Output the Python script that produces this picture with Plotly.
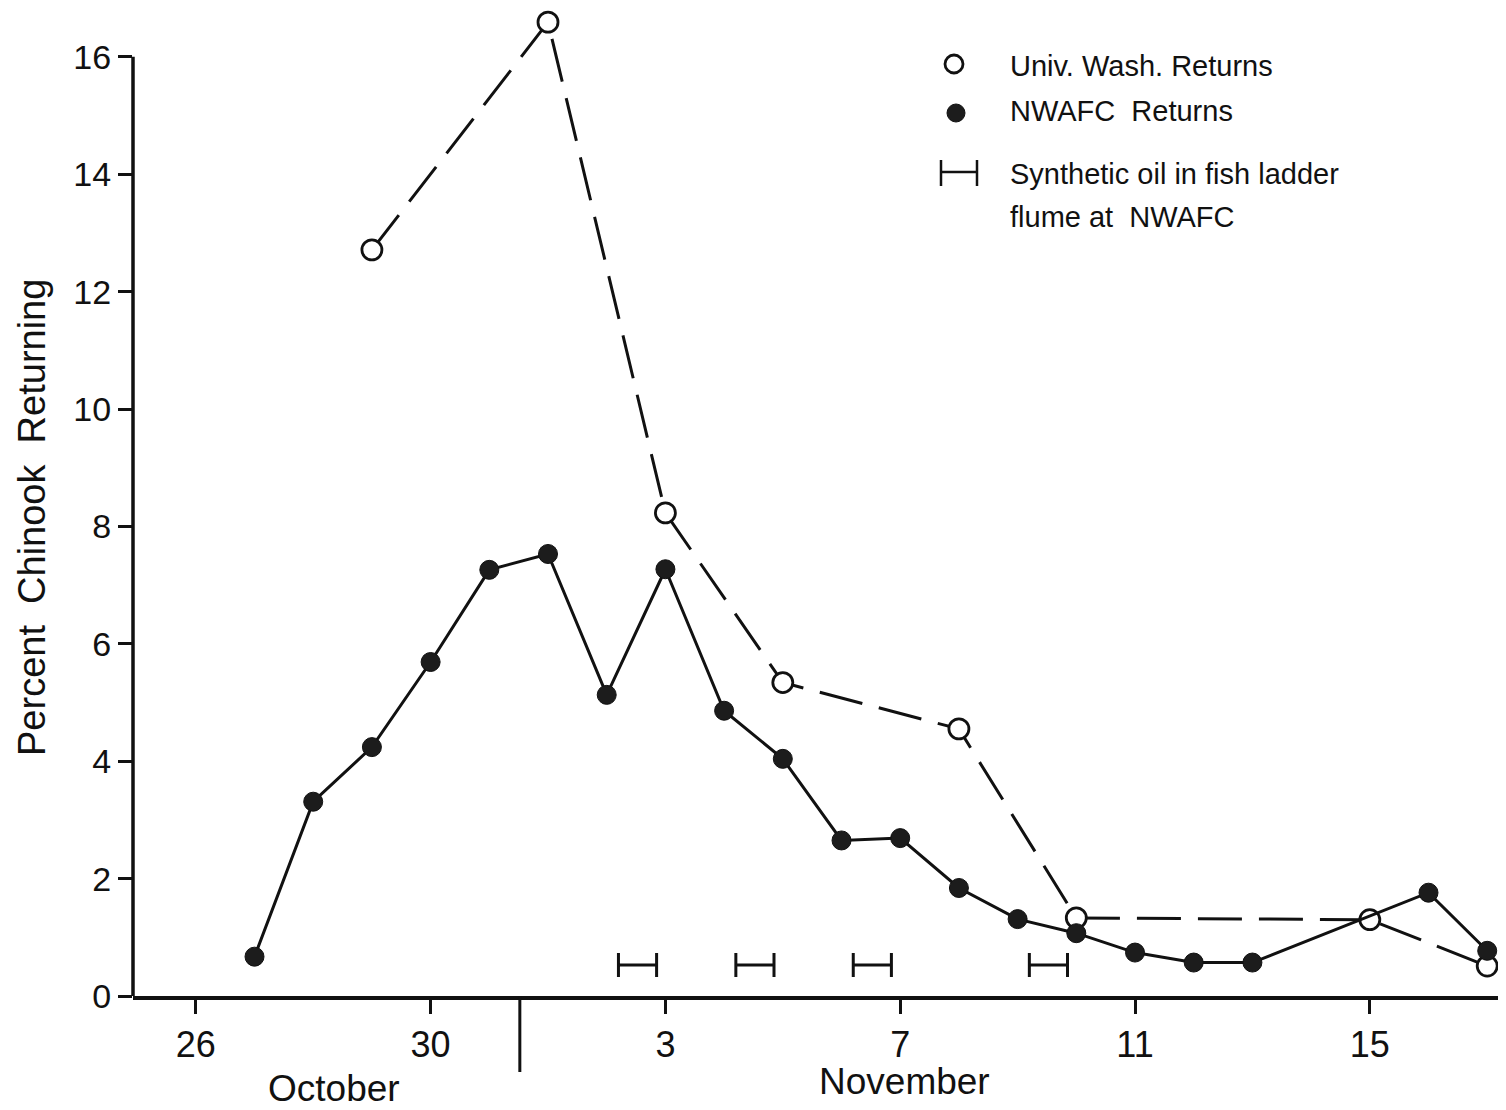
import plotly.graph_objects as go

# ---- data (day index: 0 = Oct 26, 5 = Oct 31, 6 = Nov 1, ...) ----
nwafc_days = [1, 2, 3, 4, 5, 6, 7, 8, 9, 10, 11, 12, 13, 14, 15, 16, 17, 18, 21, 22]
nwafc_vals = [0.67, 3.31, 4.24, 5.69, 7.26, 7.53, 5.13, 7.27, 4.86, 4.04,
              2.65, 2.69, 1.84, 1.31, 1.07, 0.74, 0.57, 0.57, 1.76, 0.77]

uw_days = [3, 6, 8, 10, 13, 15, 20, 22]
uw_vals = [12.71, 16.59, 8.23, 5.34, 4.55, 1.33, 1.30, 0.51]

oil_start = [7.2, 9.2, 11.2, 14.2]
oil_end = [7.85, 9.85, 11.85, 14.85]
oil_level = 0.53

tick_days = [0, 4, 8, 12, 16, 20]
tick_labels = ["26", "30", "3", "7", "11", "15"]
y_ticks = [0, 2, 4, 6, 8, 10, 12, 14, 16]
month_boundary = 5.52

FONT = "Liberation Sans, Arial, sans-serif"
INK = "#111111"

fig = go.Figure()

# Univ. Wash. returns (open circles, dashed)
fig.add_trace(go.Scatter(
    x=uw_days, y=uw_vals, mode="lines+markers",
    line=dict(color=INK, width=3, dash="44px,17px"),
    marker=dict(symbol="circle", size=20, color="white",
                line=dict(color=INK, width=2.8)),
    cliponaxis=False, showlegend=False, hoverinfo="skip"))

# NWAFC returns (filled circles, solid)
fig.add_trace(go.Scatter(
    x=nwafc_days, y=nwafc_vals, mode="lines+markers",
    line=dict(color=INK, width=3),
    marker=dict(symbol="circle", size=19, color="#1c1c1c",
                line=dict(color=INK, width=1)),
    cliponaxis=False, showlegend=False, hoverinfo="skip"))

# Synthetic oil periods (H-shaped bars)
oil_mid = [(s + e) / 2 for s, e in zip(oil_start, oil_end)]
oil_half = [(e - s) / 2 for s, e in zip(oil_start, oil_end)]
fig.add_trace(go.Scatter(
    x=oil_mid, y=[oil_level] * len(oil_mid), mode="markers",
    marker=dict(size=1, color="rgba(0,0,0,0)"),
    error_x=dict(type="data", array=oil_half, symmetric=True,
                 color=INK, thickness=3, width=12),
    showlegend=False, hoverinfo="skip"))

# page has an 8px body margin; figure coordinates = page coordinates - 8
OFF = 8
W, H = 1506 - OFF, 1110 - OFF
ML, MR, MT = 133 - OFF, 0, 0
pw = W - ML - MR
ph = 996 - OFF - MT
MB = H - MT - ph


def px(x):
    return (x - OFF - ML) / pw


def py(y):
    return (MT + ph - (y - OFF)) / ph


shapes = [
    # y axis line only up to 16
    dict(type="line", xref="paper", yref="y", x0=0, x1=0, y0=0, y1=16,
         line=dict(color=INK, width=3.5)),
    # month divider
    dict(type="line", xref="x", yref="paper", x0=month_boundary, x1=month_boundary,
         y0=0, y1=py(1072), line=dict(color=INK, width=3)),
    # legend symbols
    dict(type="circle", xref="paper", yref="paper",
         x0=px(945), x1=px(963), y0=py(73), y1=py(55),
         line=dict(color=INK, width=2.8), fillcolor="white"),
    dict(type="circle", xref="paper", yref="paper",
         x0=px(947), x1=px(965), y0=py(122), y1=py(104),
         line=dict(color=INK, width=1), fillcolor="#1c1c1c"),
    dict(type="line", xref="paper", yref="paper",
         x0=px(941), x1=px(977), y0=py(172), y1=py(172),
         line=dict(color=INK, width=2.5)),
    dict(type="line", xref="paper", yref="paper",
         x0=px(941), x1=px(941), y0=py(160), y1=py(186),
         line=dict(color=INK, width=2.5)),
    dict(type="line", xref="paper", yref="paper",
         x0=px(977), x1=px(977), y0=py(160), y1=py(186),
         line=dict(color=INK, width=2.5)),
]

legend_font = dict(family=FONT, size=29, color=INK)
NB = "\u00a0"
annotations = [
    dict(text="Univ. Wash. Returns", xref="paper", yref="paper",
         x=px(1008), y=py(66), xanchor="left", yanchor="middle",
         showarrow=False, font=legend_font),
    dict(text="NWAFC" + NB * 2 + "Returns", xref="paper", yref="paper",
         x=px(1008), y=py(111), xanchor="left", yanchor="middle",
         showarrow=False, font=legend_font),
    dict(text="Synthetic oil in fish ladder", xref="paper", yref="paper",
         x=px(1008), y=py(174), xanchor="left", yanchor="middle",
         showarrow=False, font=legend_font),
    dict(text="flume at" + NB * 2 + "NWAFC", xref="paper", yref="paper",
         x=px(1008), y=py(217), xanchor="left", yanchor="middle",
         showarrow=False, font=legend_font),
    dict(text="October", xref="paper", yref="paper",
         x=px(334), y=py(1088), xanchor="center", yanchor="middle",
         showarrow=False, font=dict(family=FONT, size=37, color=INK)),
    dict(text="November", xref="paper", yref="paper",
         x=px(904), y=py(1081), xanchor="center", yanchor="middle",
         showarrow=False, font=dict(family=FONT, size=37, color=INK)),
    dict(text="Percent" + NB * 2 + "Chinook" + NB * 2 + "Returning",
         xref="paper", yref="paper",
         x=px(32), y=py(518), xanchor="center", yanchor="middle",
         textangle=-90, showarrow=False,
         font=dict(family=FONT, size=38, color=INK)),
]

fig.update_layout(
    width=W, height=H,
    margin=dict(l=ML, r=MR, t=MT, b=MB),
    paper_bgcolor="white", plot_bgcolor="white",
    shapes=shapes, annotations=annotations,
    font=dict(family=FONT, color=INK),
    xaxis=dict(range=[-1.07, -1.07 + pw / 58.7], showgrid=False, zeroline=False,
               showline=True, linecolor=INK, linewidth=3.5,
               ticks="outside", ticklen=14, tickwidth=2.5, tickcolor=INK,
               tickvals=tick_days, ticktext=tick_labels,
               tickfont=dict(family=FONT, size=36, color=INK)),
    yaxis=dict(range=[0, ph / 58.7], showgrid=False, zeroline=False,
               showline=False,
               ticks="outside", ticklen=14, tickwidth=2.5, tickcolor=INK,
               tickvals=y_ticks, ticktext=[str(v) for v in y_ticks],
               tickfont=dict(family=FONT, size=34, color=INK)),
)

fig.write_html("out.html")
